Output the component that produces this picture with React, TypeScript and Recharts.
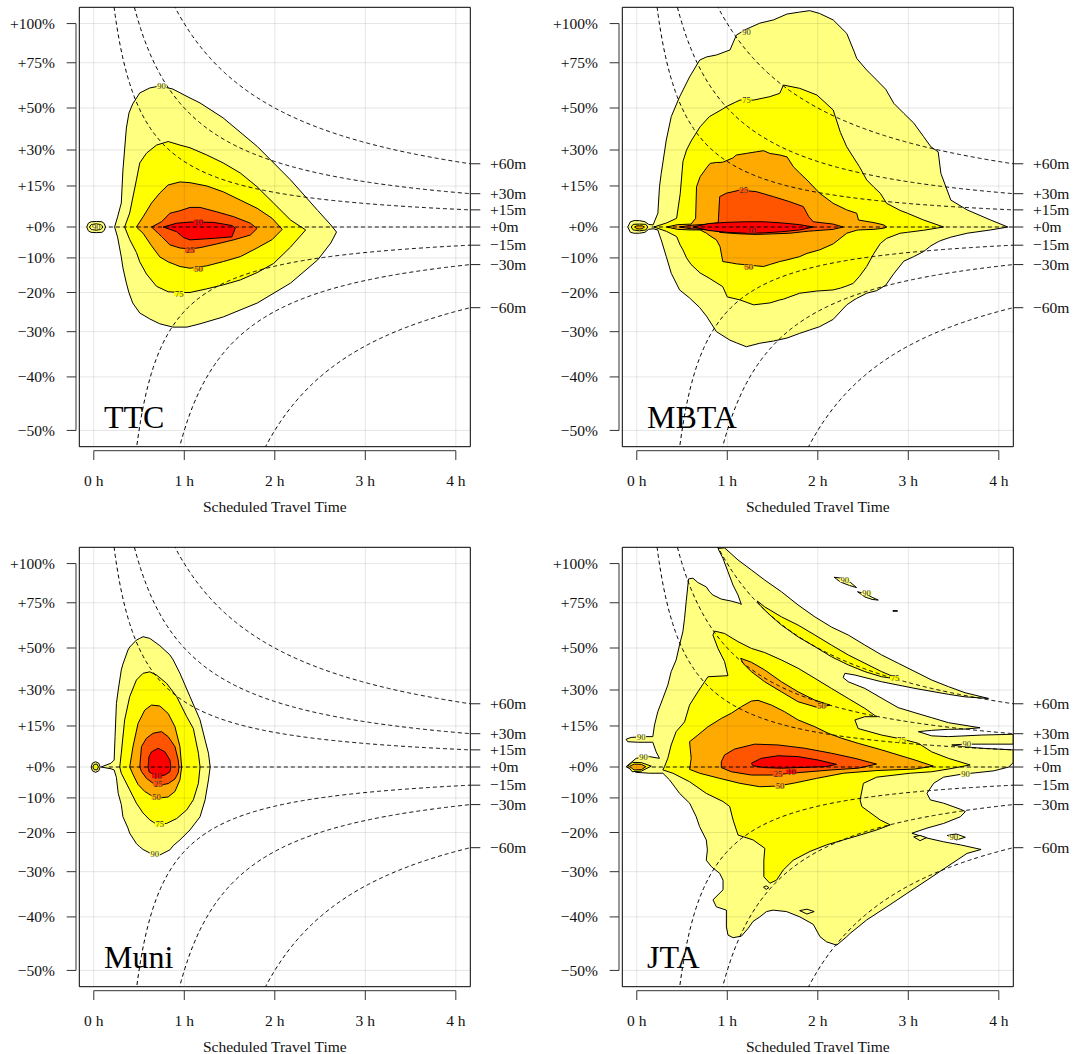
import React from 'react';
import { ComposedChart, Area, Line, XAxis, YAxis, ReferenceLine, ReferenceArea, Scatter } from 'recharts';

type Row = [number, number, number]; // [hours, low %, high %]
type Pt = [number, number]; // [hours, %]
type Lab = [number, number, string];

const FONT = '"Liberation Serif", "Times New Roman", Times, serif';

const X_TICKS = [0, 1, 2, 3, 4];
const Y_TICK_PCT = [100, 75, 50, 30, 15, 0, -10, -20, -30, -40, -50];
const DELAYS_MIN = [60, 30, 15, 0, -15, -30, -60];
const LEVEL_COLOR: Record<number, string> = { 90: '#FFFF80', 75: '#FFFF00', 50: '#FFAA00', 25: '#FF5500', 10: '#FF0000' };

// ---------------- TTC ----------------
const TTC_90: Row[] = [
  [0.23, 0, 0], [0.263, -3.4, 3.5], [0.304, -9.7, 8.5], [0.322, -13.0, 21.4], [0.36, -17.4, 40.1],
  [0.389, -20.1, 47.5], [0.43, -22.8, 52.1], [0.508, -25.4, 57.9], [0.619, -26.9, 60.6], [0.73, -28.1, 61.7],
  [0.874, -28.9, 60.0], [1.03, -28.9, 56.0], [1.174, -28.1, 52.6], [1.43, -26.4, 45.0], [1.808, -22.8, 31.5],
  [2.174, -17.4, 17.4], [2.474, -10.6, 5.8], [2.619, -5.3, 0.7], [2.682, -1.7, -1.7],
];
const TTC_75: Row[] = [
  [0.341, 0, 0], [0.397, -4.2, 4.9], [0.471, -8.3, 17.4], [0.508, -11.2, 24.4], [0.582, -14.8, 28.6],
  [0.693, -18.3, 32.2], [0.822, -19.8, 33.8], [0.952, -20.0, 32.2], [1.063, -20.0, 31.0], [1.249, -19.0, 27.8],
  [1.43, -17.9, 24.4], [1.619, -16.5, 20.2], [1.804, -14.4, 14.7], [1.986, -11.7, 8.5], [2.174, -6.6, 2.4],
  [2.341, -1.0, -1.0],
];
const TTC_50: Row[] = [
  [0.471, 0, 0], [0.544, -2.1, 3.5], [0.638, -6.2, 8.5], [0.73, -9.7, 12.3], [0.822, -11.2, 15.4],
  [0.952, -12.6, 16.6], [1.063, -13.1, 16.3], [1.249, -12.4, 15.0], [1.433, -11.1, 12.7], [1.619, -9.6, 9.6],
  [1.804, -6.9, 6.6], [1.971, -4.2, 3.0], [2.082, -0.8, -0.8],
];
const TTC_25: Row[] = [
  [0.638, 0, 0], [0.749, -3.2, 1.8], [0.841, -5.9, 4.8], [0.952, -6.9, 5.7], [1.063, -7.2, 6.9],
  [1.174, -6.8, 6.9], [1.36, -5.6, 5.3], [1.544, -4.3, 3.6], [1.73, -2.7, 1.3], [1.804, -0.5, -0.5],
];
const TTC_10: Row[] = [
  [0.767, 0, 0], [0.916, -1.6, 1.3], [0.99, -3.5, 1.5], [1.063, -4.3, 1.7], [1.322, -3.8, 1.6],
  [1.527, -3.3, 0.5], [1.563, -0.4, -0.4],
];
const TTC_90_DOT: Row[] = [[-0.078, 0, 0], [-0.06, -1.3, 1.3], [-0.03, -1.8, 1.8], [0.027, -1.9, 1.9], [0.09, -1.8, 1.8], [0.115, -1.2, 1.2], [0.13, 0, 0]];
const TTC_75_DOT: Row[] = [[-0.048, 0, 0], [-0.03, -0.8, 0.8], [0.027, -1.1, 1.1], [0.08, -0.8, 0.8], [0.1, 0, 0]];
const TTC_LABELS: Lab[] = [[0.749, 61.7, '90'], [0.944, -20.4, '75'], [1.156, -13.3, '50'], [1.063, -7.7, '25'], [1.156, 1.7, '10'], [0.027, 0, '90']];

// ---------------- MBTA ----------------
const MBTA_90: Row[] = [
  [-0.1, 0, 0], [-0.07, -1.8, 1.8], [-0.03, -2.1, 2.2], [0.03, -2.1, 2.2], [0.09, -1.8, 1.8], [0.13, -0.8, 0.9],
  [0.18, -0.6, 0.7], [0.233, -1.0, 4.8], [0.251, -2.7, 14.7], [0.27, -4.3, 20.0], [0.326, -9.6, 34.5],
  [0.381, -14.6, 45.7], [0.473, -19.3, 55.8], [0.584, -21.5, 66.8], [0.695, -24.0, 76.6], [0.77, -26.2, 78.5],
  [0.88, -30.0, 79.7], [1.03, -32.0, 82.8], [1.1, -32.6, 92.3], [1.21, -33.5, 96.2], [1.36, -32.7, 100.3],
  [1.51, -32.2, 102.5], [1.66, -31.5, 106.6], [1.8, -30.4, 108.0], [1.91, -29.6, 109.0], [2.02, -28.8, 107.0],
  [2.17, -27.0, 102.5], [2.32, -23.3, 93.4], [2.4, -22.0, 82.0], [2.43, -21.6, 77.6], [2.54, -20.2, 70.7],
  [2.65, -19.5, 65.0], [2.75, -18.0, 59.9], [2.84, -14.7, 52.4], [2.95, -11.0, 47.3], [3.06, -9.6, 42.5],
  [3.17, -8.0, 36.0], [3.25, -6.2, 31.4], [3.33, -4.9, 29.2], [3.36, -4.5, 20.0], [3.47, -3.4, 9.6],
  [3.65, -2.1, 6.0], [3.91, -1.0, 2.4], [4.1, 0, 0],
];
const MBTA_75: Row[] = [
  [0.19, 0, 0], [0.33, -1.5, 1.4], [0.44, -3.2, 3.0], [0.48, -6.0, 12.0], [0.51, -7.5, 25.0], [0.55, -10.0, 30.0],
  [0.6, -12.0, 34.0], [0.7, -14.5, 40.7], [0.8, -16.0, 45.6], [0.95, -18.4, 49.5], [1.0, -21.2, 51.0],
  [1.14, -22.0, 54.1], [1.29, -23.3, 54.1], [1.47, -22.8, 55.9], [1.58, -22.0, 57.7], [1.62, -21.8, 62.2],
  [1.8, -20.2, 60.4], [1.99, -19.6, 56.8], [2.17, -19.3, 49.0], [2.25, -18.8, 38.0], [2.32, -18.2, 31.4],
  [2.39, -17.5, 27.0], [2.46, -15.5, 22.8], [2.54, -12.6, 17.4], [2.62, -8.6, 14.5], [2.69, -5.5, 12.2],
  [2.76, -3.8, 8.4], [2.91, -2.1, 5.8], [2.99, -1.8, 4.8], [3.17, -1.1, 2.4], [3.39, 0, 0],
];
const MBTA_50: Row[] = [
  [0.33, 0, 0], [0.45, -0.8, 0.8], [0.6, -1.0, 1.0], [0.65, -1.0, 3.0], [0.66, -1.0, 14.7], [0.7, -1.0, 18.7],
  [0.77, -2.1, 22.3], [0.81, -3.0, 24.2], [0.88, -4.3, 24.6], [0.92, -6.5, 24.6], [0.95, -11.1, 24.7],
  [1.06, -11.6, 26.5], [1.1, -11.8, 27.8], [1.21, -12.1, 28.5], [1.32, -12.4, 29.2], [1.4, -12.6, 29.7],
  [1.47, -12.0, 28.5], [1.58, -11.1, 27.8], [1.66, -10.6, 27.0], [1.73, -10.1, 22.8], [1.8, -9.6, 20.2],
  [1.88, -8.6, 17.4], [2.02, -7.5, 12.2], [2.17, -5.6, 8.4], [2.32, -2.1, 6.0], [2.43, -1.1, 4.8],
  [2.45, -1.0, 2.4], [2.62, -0.8, 1.5], [2.73, -0.4, 0.7], [2.76, 0, 0],
];
const MBTA_25: Row[] = [
  [0.47, 0, 0], [0.6, -0.6, 0.6], [0.8, -1.0, 1.0], [0.9, -1.5, 1.5], [0.916, -1.8, 10.9], [0.99, -2.0, 12.2],
  [1.14, -2.3, 13.4], [1.32, -2.5, 12.8], [1.51, -2.3, 10.9], [1.69, -2.1, 9.0], [1.84, -1.6, 7.2],
  [1.9, -1.4, 3.6], [1.95, -1.3, 1.8], [2.17, -0.8, 1.0], [2.28, 0, 0],
];
const MBTA_10: Row[] = [
  [0.62, 0, 0], [0.8, -1.2, 1.2], [1.0, -1.8, 1.6], [1.2, -2.1, 1.8], [1.4, -2.0, 1.8], [1.6, -1.6, 1.4],
  [1.8, -1.0, 0.8], [1.95, 0, 0],
];
const MBTA_75_DOT: Row[] = [[-0.062, 0, 0], [-0.04, -1.0, 0.9], [0.03, -1.3, 1.0], [0.1, -1.0, 0.9], [0.122, 0, 0]];
const MBTA_50_DOT: Row[] = [[-0.025, 0, 0], [0.0, -0.6, 0.4], [0.03, -0.7, 0.4], [0.06, -0.6, 0.4], [0.085, 0, 0]];
const MBTA_LABELS: Lab[] = [[1.212, 93.9, '90'], [1.212, 54.1, '75'], [1.182, 13.2, '25'], [1.238, -12.7, '50'], [1.268, -1.3, '10']];

// ---------------- Muni ----------------
const MUNI_90: Row[] = [
  [0.08, 0, 0], [0.19, -0.6, 1.3], [0.225, -1.0, 2.4], [0.235, -2.0, 10.9], [0.25, -3.5, 24.2],
  [0.27, -8.6, 30.0], [0.304, -12.0, 39.2], [0.322, -15.6, 42.0], [0.378, -18.8, 49.0], [0.397, -20.2, 50.5],
  [0.471, -23.0, 54.1], [0.508, -23.8, 55.0], [0.544, -24.5, 55.9], [0.619, -25.4, 55.0], [0.73, -25.9, 51.2],
  [0.841, -24.6, 46.5], [0.878, -23.5, 44.0], [0.952, -22.0, 37.6], [1.063, -19.3, 27.1], [1.174, -15.6, 17.4],
  [1.23, -10.6, 9.6], [1.267, -4.3, 4.8], [1.286, 0, 0],
];
const MUNI_75: Row[] = [
  [0.287, 0, 0], [0.304, -2.1, 4.8], [0.341, -4.3, 17.4], [0.397, -7.5, 27.1], [0.471, -11.6, 34.5],
  [0.544, -14.5, 37.6], [0.619, -16.5, 38.3], [0.693, -17.7, 36.8], [0.804, -17.5, 33.0], [0.916, -16.1, 27.1],
  [1.027, -13.6, 18.7], [1.1, -10.6, 14.0], [1.156, -5.4, 4.8], [1.174, 0, 0],
];
const MUNI_50: Row[] = [
  [0.397, 0, 0], [0.433, -2.5, 7.2], [0.489, -5.8, 16.0], [0.563, -8.0, 21.4], [0.638, -9.3, 23.5],
  [0.73, -10.0, 23.1], [0.822, -9.7, 20.0], [0.897, -8.0, 14.7], [0.952, -4.3, 7.2], [0.971, 0, 0],
];
const MUNI_25: Row[] = [
  [0.508, 0, 0], [0.527, -1.5, 7.2], [0.582, -3.8, 10.3], [0.656, -5.4, 12.2], [0.749, -5.9, 12.8],
  [0.822, -5.5, 10.9], [0.897, -4.0, 7.2], [0.933, -2.0, 2.4], [0.941, 0, 0],
];
const MUNI_10: Row[] = [
  [0.6, 0, 0], [0.61, -1.6, 3.6], [0.638, -2.2, 5.3], [0.711, -3.0, 6.6], [0.786, -2.7, 5.3],
  [0.841, -1.6, 2.4], [0.852, 0, 0],
];
const MUNI_90_DOT: Row[] = [[-0.029, 0, 0], [-0.015, -1.3, 1.3], [0.02, -1.8, 1.8], [0.055, -1.3, 1.3], [0.071, 0, 0]];
const MUNI_75_DOT: Row[] = [[-0.011, 0, 0], [0.005, -0.9, 0.9], [0.035, -1.0, 1.0], [0.052, 0, 0]];
const MUNI_LABELS: Lab[] = [[0.7, -3.0, '10'], [0.711, -5.6, '25'], [0.693, -9.8, '50'], [0.73, -17.7, '75'], [0.674, -25.7, '90']];

// ---------------- JTA (outlines traced as polygons) ----------------
const JTA_90: Pt[] = [
  [-0.118, 0.1], [-0.007, 3.0], [0.14, 3.6], [0.251, 3.0], [0.214, 5.3], [0.177, 8.8], [0.011, 8.8], [-0.1, 9.0],
  [-0.118, 9.9], [-0.063, 10.6], [0.085, 10.9], [0.177, 10.9], [0.196, 15.4], [0.232, 20.7], [0.288, 26.3],
  [0.343, 32.2], [0.38, 38.4], [0.435, 44.0], [0.472, 51.5], [0.509, 58.5], [0.528, 66.0], [0.546, 75.7],
  [0.565, 85.9], [0.572, 89.8], [0.62, 90.3], [0.675, 87.5], [0.768, 84.7], [0.804, 81.7], [0.841, 79.7],
  [0.934, 77.2], [1.044, 76.0], [1.137, 74.6], [1.155, 74.0], [1.118, 79.7], [1.063, 85.9], [1.007, 94.6],
  [0.952, 103.6], [0.897, 110.6], [0.97, 111.0], [1.118, 102.5], [1.266, 95.7], [1.413, 89.1], [1.598, 81.7],
  [1.782, 73.7], [1.967, 66.8], [2.151, 61.1], [2.336, 56.8], [2.52, 51.5], [2.705, 46.5], [2.889, 42.4],
  [3.074, 38.4], [3.258, 34.5], [3.443, 31.5], [3.627, 28.8], [3.886, 26.3], [3.627, 27.0], [3.443, 28.1],
  [3.074, 30.7], [2.705, 33.7], [2.41, 36.8], [2.299, 37.6], [2.28, 35.6], [2.336, 33.7], [2.52, 30.7],
  [2.742, 25.6], [2.889, 22.4], [3.074, 20.3], [3.258, 18.3], [3.443, 16.3], [3.793, 14.3], [3.627, 13.8],
  [3.443, 13.7], [3.258, 13.3], [3.111, 12.8], [3.258, 11.2], [3.443, 10.9], [3.812, 11.5], [4.159, 11.8],
  [4.159, 8.1], [3.812, 8.1], [3.627, 8.1], [3.48, 7.8], [3.627, 7.1], [3.812, 6.6], [4.159, 6.0],
  [4.159, 1.5], [4.11, 0.0], [3.945, -1.3], [3.575, -2.5], [3.39, -3.4], [3.28, -5.4], [3.206, -8.6],
  [3.243, -10.6], [3.39, -11.6], [3.575, -13.4], [3.631, -14.1], [3.575, -15.6], [3.39, -17.5], [3.206, -18.8],
  [3.04, -20.2], [3.206, -21.5], [3.39, -22.5], [3.575, -23.3], [3.804, -24.5], [3.649, -25.5], [3.428, -28.8],
  [3.206, -32.0], [2.984, -35.0], [2.763, -37.9], [2.541, -40.6], [2.356, -43.3], [2.32, -43.9], [2.209, -45.5],
  [2.098, -44.9], [2.024, -43.9], [1.95, -41.5], [1.802, -40.0], [1.655, -38.9], [1.507, -38.6], [1.433, -38.9],
  [1.359, -40.0], [1.285, -40.9], [1.23, -42.3], [1.156, -43.8], [1.064, -44.1], [1.008, -43.6], [0.99, -42.0],
  [0.99, -38.6], [0.879, -37.9], [0.842, -36.4], [0.953, -34.2], [0.953, -32.0], [0.916, -30.4], [0.824, -28.8],
  [0.768, -27.2], [0.78, -24.6], [0.768, -22.0], [0.694, -18.4], [0.657, -15.6], [0.584, -11.6], [0.473, -8.6],
  [0.362, -4.3], [0.288, -2.1], [0.14, -2.1], [-0.007, -1.8], [-0.118, 0.1],
];
const JTA_90_ISLE_A: Pt[] = [[2.181, 90.9], [2.26, 90.3], [2.36, 87.6], [2.428, 84.3], [2.35, 85.6], [2.25, 87.8], [2.181, 90.9]];
const JTA_90_ISLE_B: Pt[] = [[2.439, 81.7], [2.52, 80.6], [2.6, 78.3], [2.668, 76.6], [2.6, 77.0], [2.52, 78.5], [2.439, 81.7]];
const JTA_90_ISLE_C: Pt[] = [[3.06, -21.2], [3.13, -20.8], [3.2, -21.4], [3.13, -22.2], [3.06, -21.2]];
const JTA_90_ISLE_D: Pt[] = [[3.43, -20.8], [3.53, -20.4], [3.63, -21.3], [3.53, -22.0], [3.43, -20.8]];
const JTA_90_ISLE_E: Pt[] = [[1.8, -38.7], [1.88, -38.4], [1.96, -38.9], [1.88, -39.4], [1.8, -38.7]];
const JTA_90_ISLE_F: Pt[] = [[1.4, -33.6], [1.43, -33.3], [1.46, -33.7], [1.43, -34.1], [1.4, -33.6]];
const JTA_90_ISLE_G: Pt[] = [[2.83, 70.4], [2.88, 70.4], [2.88, 70.0], [2.83, 70.0], [2.83, 70.4]];
const JTA_75: Pt[] = [
  [0.306, 0.1], [0.343, 3.0], [0.38, 7.8], [0.435, 12.8], [0.528, 16.6], [0.583, 23.5], [0.675, 29.2],
  [0.786, 36.0], [1.007, 36.5], [0.97, 43.2], [0.897, 49.8], [0.841, 56.8], [0.86, 58.9], [0.97, 57.6],
  [1.118, 53.3], [1.266, 49.8], [1.413, 47.7], [1.598, 44.0], [1.782, 40.0], [1.967, 35.3], [2.151, 30.7],
  [2.336, 26.3], [2.52, 22.1], [2.649, 18.7], [2.52, 18.7], [2.41, 17.4], [2.446, 14.0], [2.705, 11.5],
  [2.926, 10.0], [3.111, 8.4], [3.258, 5.3], [3.443, 3.0], [3.683, 0.7], [3.443, -0.7], [3.258, -1.6],
  [3.021, -2.1], [2.652, -3.4], [2.504, -5.4], [2.467, -10.6], [2.486, -12.6], [2.689, -16.5], [2.8, -17.9],
  [2.652, -19.3], [2.467, -20.7], [2.283, -22.0], [2.098, -23.3], [1.913, -25.0], [1.729, -27.2], [1.618, -29.6],
  [1.544, -32.0], [1.47, -32.7], [1.404, -31.2], [1.404, -27.2], [1.415, -24.2], [1.285, -22.0], [1.119, -20.7],
  [1.064, -16.5], [1.027, -12.6], [0.953, -11.1], [0.768, -8.6], [0.584, -4.9], [0.399, -2.1], [0.288, -1.0],
  [0.306, 0.1],
];
const JTA_75_STREAK: Pt[] = [
  [1.332, 76.0], [1.413, 72.6], [1.598, 66.8], [1.782, 62.2], [1.967, 56.8], [2.151, 51.5], [2.336, 46.5],
  [2.52, 42.4], [2.705, 38.4], [2.908, 34.8], [2.705, 36.0], [2.52, 38.4], [2.336, 41.6], [2.151, 45.6],
  [1.967, 50.7], [1.782, 55.8], [1.598, 62.2], [1.45, 68.8], [1.358, 73.7], [1.332, 76.0],
];
const JTA_75_TAIL: Pt[] = [[-0.1, 0.3], [-0.05, 1.6], [0.05, 1.5], [0.16, 0.3], [0.05, -1.4], [-0.05, -1.6], [-0.1, 0.3]];
const JTA_50: Pt[] = [
  [0.601, 3.0], [0.583, 9.0], [0.675, 11.5], [0.786, 14.7], [0.934, 18.0], [1.044, 20.1], [1.155, 22.8],
  [1.266, 25.2], [1.339, 25.5], [1.487, 23.5], [1.635, 20.7], [1.782, 17.4], [1.967, 14.7], [2.114, 12.2],
  [2.262, 10.3], [2.446, 8.4], [2.705, 6.0], [3.074, 2.4], [3.277, 0.3], [3.074, -0.7], [2.652, -1.2],
  [2.283, -2.1], [1.987, -3.8], [1.729, -5.4], [1.544, -6.3], [1.359, -6.5], [1.138, -5.4], [0.916, -3.8],
  [0.694, -2.1], [0.584, -0.8], [0.601, 3.0],
];
const JTA_50_STREAK: Pt[] = [
  [1.148, 44.8], [1.266, 42.9], [1.413, 39.2], [1.598, 33.7], [1.782, 29.2], [1.967, 25.6], [2.133, 23.5],
  [2.004, 22.4], [1.782, 24.9], [1.598, 29.2], [1.413, 33.7], [1.266, 38.4], [1.173, 42.4], [1.148, 44.8],
];
const JTA_50_TAIL: Pt[] = [[-0.08, 0.2], [-0.03, 1.0], [0.05, 0.9], [0.1, 0.1], [0.05, -0.9], [-0.03, -1.0], [-0.08, 0.2]];
const JTA_25: Pt[] = [
  [0.934, 1.8], [0.97, 4.2], [1.081, 6.3], [1.303, 8.1], [1.561, 7.8], [1.856, 6.6], [2.151, 4.8], [2.41, 3.0],
  [2.649, 1.0], [2.446, -0.4], [2.151, -1.0], [1.782, -1.9], [1.487, -2.7], [1.266, -2.7], [1.044, -1.6],
  [0.934, -0.2], [0.934, 1.8],
];
const JTA_10: Pt[] = [
  [1.266, 1.3], [1.376, 3.0], [1.561, 3.9], [1.782, 3.6], [2.004, 2.4], [2.207, 0.9], [2.077, 0.1],
  [1.782, -0.2], [1.598, -0.4], [1.413, -0.2], [1.284, 0.4], [1.266, 1.3],
];
const JTA_LABELS: Lab[] = [
  [0.048, 10.6, '90'], [0.074, 3.4, '90'], [3.646, 8.1, '90'], [3.631, -2.5, '90'], [2.926, 9.6, '75'],
  [2.852, 35.3, '75'], [2.04, 23.2, '50'], [1.581, -6.3, '50'], [1.561, -2.5, '25'], [1.708, -1.6, '10'],
  [2.299, 89.1, '90'], [2.539, 80.8, '90'], [3.501, -21.3, '90'],
];

// ---------------- helpers ----------------
const X_MIN = -0.16;
const X_MAX = 4.16;
const Y_EXT = Math.log(2) * 1.08;
const PLOT_T = 7.3;
const PLOT_W = 391;
const PLOT_H = 439.4;
const LEFT_W = 79.3;
const RIGHT_W = 50;
const CHART_W = 530;
const XAXIS_H = 67;

const toY = (p: number) => Math.log(1 + p / 100);
const closePoly = (pts: Pt[]): Pt[] => {
  const f = pts[0];
  const l = pts[pts.length - 1];
  return f[0] === l[0] && f[1] === l[1] ? pts : [...pts, f];
};
const bandToPoly = (rows: Row[]): Pt[] =>
  closePoly([...rows.map((r) => [r[0], r[2]] as Pt), ...rows.slice().reverse().map((r) => [r[0], r[1]] as Pt)]);

type Shape = { level: number; poly: Pt[] };
const bands = (list: [number, Row[]][]): Shape[] => list.map(([level, rows]) => ({ level, poly: bandToPoly(rows) }));

const TTC_SHAPES = bands([[90, TTC_90], [90, TTC_90_DOT], [75, TTC_75_DOT], [75, TTC_75], [50, TTC_50], [25, TTC_25], [10, TTC_10]]);
const MBTA_SHAPES = bands([[90, MBTA_90], [75, MBTA_75_DOT], [50, MBTA_50_DOT], [75, MBTA_75], [50, MBTA_50], [25, MBTA_25], [10, MBTA_10]]);
const MUNI_SHAPES = bands([[90, MUNI_90], [90, MUNI_90_DOT], [75, MUNI_75_DOT], [75, MUNI_75], [50, MUNI_50], [25, MUNI_25], [10, MUNI_10]]);
const JTA_SHAPES: Shape[] = [
  { level: 90, poly: JTA_90 }, { level: 90, poly: JTA_90_ISLE_A }, { level: 90, poly: JTA_90_ISLE_B },
  { level: 90, poly: JTA_90_ISLE_C }, { level: 90, poly: JTA_90_ISLE_D }, { level: 90, poly: JTA_90_ISLE_E },
  { level: 90, poly: JTA_90_ISLE_F }, { level: 90, poly: JTA_90_ISLE_G },
  { level: 75, poly: JTA_75 }, { level: 75, poly: JTA_75_STREAK }, { level: 75, poly: JTA_75_TAIL },
  { level: 50, poly: JTA_50 }, { level: 50, poly: JTA_50_STREAK }, { level: 50, poly: JTA_50_TAIL },
  { level: 25, poly: JTA_25 }, { level: 10, poly: JTA_10 },
];

// constant-delay guide curves: ratio = (t + d) / t
const T_SAMPLES: number[] = [];
for (let t = 1 / 6; t < X_MAX; t += 0.01) T_SAMPLES.push(t);
T_SAMPLES.push(X_MAX);
const delayCurve = (dMin: number) =>
  T_SAMPLES.filter((t) => t + dMin / 60 > 0.002).map((t) => ({ x: t, y: Math.log(1 + dMin / 60 / t) }));
const DELAY_CURVES = DELAYS_MIN.map((d) => ({ d, data: delayCurve(d) }));

const Y_TICKS = Y_TICK_PCT.map(toY);
const R_TICKS = DELAYS_MIN.map((d) => Math.log(1 + d / 60 / X_MAX));

const fmtPct = (v: number) => {
  const p = Math.round((Math.exp(v) - 1) * 100);
  return p >= 0 ? `+${p}%` : `\u2212${-p}%`;
};
const fmtMin = (v: number) => {
  const m = Math.round((Math.exp(v) - 1) * X_MAX * 60);
  return m >= 0 ? `+${m}m` : `\u2212${-m}m`;
};

const TXT = { fontFamily: FONT, fontSize: 15.5, fill: '#111' };

const LeftTick = (props: any) => {
  const { x, y, payload } = props;
  return (
    <g>
      <line x1={x - 12.6} x2={x - 3.3} y1={y} y2={y} stroke="#333" strokeWidth={1} />
      <text x={x - 24.5} y={y} dy="0.34em" textAnchor="end" {...TXT}>{fmtPct(payload.value)}</text>
    </g>
  );
};
const RightTick = (props: any) => {
  const { x, y, payload } = props;
  return (
    <g>
      <line x1={x} x2={x + 10} y1={y} y2={y} stroke="#222" strokeWidth={1} />
      <text x={x + 19.7} y={y} dy="0.34em" textAnchor="start" {...TXT}>{fmtMin(payload.value)}</text>
    </g>
  );
};
const BottomTick = (props: any) => {
  const { x, y, payload } = props;
  return (
    <g>
      <line x1={x} x2={x} y1={y + 4} y2={y + 13.3} stroke="#333" strokeWidth={1} />
      <text x={x} y={y + 39.3} textAnchor="middle" {...TXT}>{`${payload.value} h`}</text>
    </g>
  );
};

const LabelShape = (p: any) => {
  const t = p.payload.t as string;
  return (
    <g>
      <rect x={p.cx - 5} y={p.cy - 2.2} width={10} height={4.4} fill={LEVEL_COLOR[Number(t)] || '#fff'} />
      <text x={p.cx} y={p.cy} dy="0.33em" textAnchor="middle" fontSize={8.5} fontFamily={FONT} fill="#333">{t}</text>
    </g>
  );
};

function Panel({ shapes, labels, left, top, height }: { shapes: Shape[]; labels: Lab[]; left: number; top: number; height: number }) {
  const xPerPx = (X_MAX - X_MIN) / PLOT_W;
  const yPerPx = (2 * Y_EXT) / PLOT_H;
  const leftAxisX = X_MIN - 3.3 * xPerPx;
  const bottomAxisY = -Y_EXT - 4 * yPerPx;
  const marginBottom = height - PLOT_T - PLOT_H - XAXIS_H;
  const labelData = labels.map(([x, p, t]) => ({ x, y: toY(p), t }));
  return (
    <div style={{ position: 'absolute', left, top }}>
      <ComposedChart width={CHART_W} height={height} margin={{ top: PLOT_T, right: CHART_W - LEFT_W - PLOT_W - RIGHT_W, bottom: marginBottom, left: 0 }}>
        <XAxis type="number" dataKey="x" domain={[X_MIN, X_MAX]} allowDataOverflow ticks={X_TICKS} interval={0}
          tick={BottomTick} tickLine={false} axisLine={false} tickSize={0} tickMargin={0} height={XAXIS_H} />
        <YAxis yAxisId="L" type="number" dataKey="y" domain={[-Y_EXT, Y_EXT]} allowDataOverflow ticks={Y_TICKS} interval={0}
          tick={LeftTick} tickLine={false} axisLine={false} tickSize={0} tickMargin={0} width={LEFT_W} />
        <YAxis yAxisId="R" orientation="right" type="number" domain={[-Y_EXT, Y_EXT]} allowDataOverflow ticks={R_TICKS} interval={0}
          tick={RightTick} tickLine={false} axisLine={false} tickSize={0} tickMargin={0} width={RIGHT_W} />

        {shapes.map((s, i) => {
          const data = s.poly.map(([x, p]) => ({ x, y: toY(p) }));
          return (
            <Area key={`a${i}`} yAxisId="L" data={data} dataKey="y" type="linear" baseValue={data[0].y}
              fill={LEVEL_COLOR[s.level]} fillOpacity={1} stroke="#000" strokeWidth={1}
              isAnimationActive={false} dot={false} activeDot={false} connectNulls />
          );
        })}

        {X_TICKS.map((v) => (
          <ReferenceLine key={`gx${v}`} yAxisId="L" x={v} stroke="rgba(0,0,0,0.1)" strokeWidth={1} />
        ))}
        {Y_TICKS.map((v, i) => (
          <ReferenceLine key={`gy${i}`} yAxisId="L" y={v} stroke="rgba(0,0,0,0.1)" strokeWidth={1} />
        ))}

        {DELAY_CURVES.map((c) => (
          <Line key={`d${c.d}`} yAxisId="L" data={c.data} dataKey="y" type="linear" stroke="#000" strokeWidth={1}
            strokeDasharray="4 3" dot={false} activeDot={false} isAnimationActive={false} />
        ))}

        <Scatter yAxisId="L" data={labelData} dataKey="y" shape={LabelShape} isAnimationActive={false} />

        <ReferenceArea yAxisId="L" x1={X_MIN} x2={X_MAX} y1={-Y_EXT} y2={Y_EXT} fill="none" fillOpacity={0} stroke="#000" strokeWidth={1} />
        <ReferenceLine yAxisId="L" ifOverflow="visible" segment={[{ x: leftAxisX, y: Y_TICKS[0] }, { x: leftAxisX, y: Y_TICKS[Y_TICKS.length - 1] }]} stroke="#333" strokeWidth={1} />
        <ReferenceLine yAxisId="L" ifOverflow="visible" segment={[{ x: X_TICKS[0], y: bottomAxisY }, { x: X_TICKS[X_TICKS.length - 1], y: bottomAxisY }]} stroke="#333" strokeWidth={1} />
      </ComposedChart>
    </div>
  );
}

const PANELS = [
  { name: 'TTC', shapes: TTC_SHAPES, labels: TTC_LABELS, left: 0, top: 0, height: 530 },
  { name: 'MBTA', shapes: MBTA_SHAPES, labels: MBTA_LABELS, left: 543, top: 0, height: 530 },
  { name: 'Muni', shapes: MUNI_SHAPES, labels: MUNI_LABELS, left: 0, top: 540, height: 514 },
  { name: 'JTA', shapes: JTA_SHAPES, labels: JTA_LABELS, left: 543, top: 540, height: 514 },
];

export default function App() {
  return (
    <div style={{ position: 'absolute', left: 0, top: 0, width: 1075, height: 1054, overflow: 'hidden', background: '#fff', fontFamily: FONT }}>
      {PANELS.map((p) => (
        <Panel key={p.name} shapes={p.shapes} labels={p.labels} left={p.left} top={p.top} height={p.height} />
      ))}
      <svg width={1075} height={1054} style={{ position: 'absolute', left: 0, top: 0, pointerEvents: 'none' }}>
        {PANELS.map((p) => (
          <g key={p.name}>
            <text x={p.left + 104} y={p.top + 428} fontFamily={FONT} fontSize={32} fill="#000">{p.name}</text>
            <text x={p.left + LEFT_W + PLOT_W / 2} y={p.top + 512} fontFamily={FONT} fontSize={15.5} fill="#111" textAnchor="middle">Scheduled Travel Time</text>
          </g>
        ))}
      </svg>
    </div>
  );
}
